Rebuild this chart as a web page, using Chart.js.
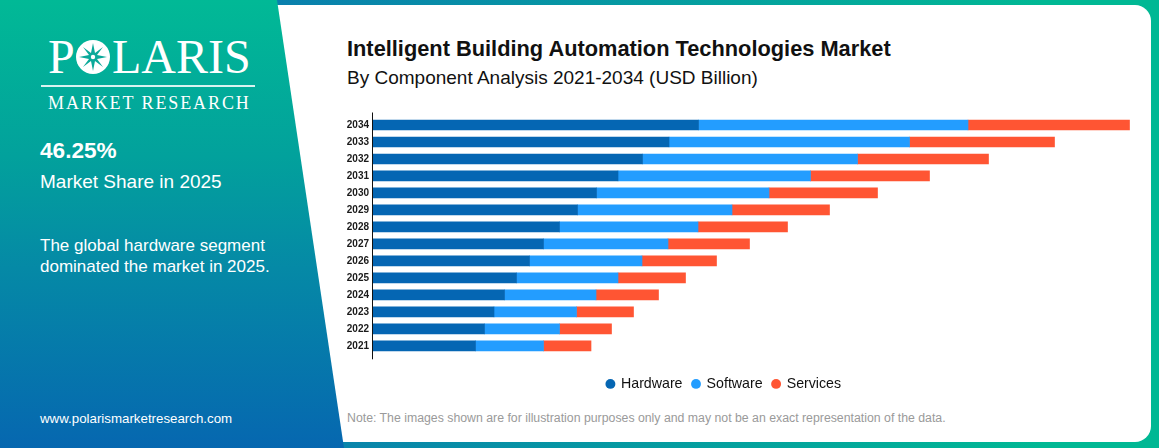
<!DOCTYPE html>
<html>
<head>
<meta charset="utf-8">
<script src="https://cdn.jsdelivr.net/npm/chart.js"></script>
<style>
  html, body {
    margin: 0;
    padding: 0;
  }
  body {
    width: 1159px;
    height: 448px;
    position: relative;
    overflow: hidden;
    font-family: 'Liberation Sans', Arial, sans-serif;
    background: linear-gradient(90deg, #0870b0 0%, #0a80ad 24%, #00b894 90%);
  }

  /* white card */
  .card {
    position: absolute;
    left: 268px;
    top: 5px;
    width: 883px;
    height: 436.5px;
    background: #ffffff;
    border-radius: 0 16px 16px 0;
  }

  /* left panel */
  .side {
    position: absolute;
    left: 0;
    top: 0;
    width: 360px;
    height: 448px;
    background: linear-gradient(180deg, #01b996 0%, #02a19c 35%, #0589a6 60%, #0667b0 100%);
    clip-path: polygon(0 0, 277px 0, 344px 448px, 0 448px);
    color: #ffffff;
  }
  .logo {
    position: absolute;
    font-family: 'Liberation Serif', 'DejaVu Serif', serif;
    font-size: 48px;
    line-height: 48px;
    top: 33px;
    color: #ffffff;
  }
  .logo-mark {
    position: absolute;
    left: 76px;
    top: 40px;
  }
  .logo-rule {
    position: absolute;
    left: 41px;
    top: 85px;
    width: 214px;
    height: 2px;
    background: rgba(255, 255, 255, 0.85);
  }
  .logo-sub {
    position: absolute;
    left: 48px;
    top: 94px;
    font-family: 'Liberation Serif', 'DejaVu Serif', serif;
    font-size: 18px;
    line-height: 18px;
    letter-spacing: 1.9px;
    white-space: nowrap;
  }
  .share {
    position: absolute;
    left: 40px;
    top: 140.3px;
    font-size: 22.6px;
    line-height: 22.6px;
    font-weight: bold;
  }
  .share-label {
    position: absolute;
    left: 40px;
    top: 171.5px;
    font-size: 19px;
    line-height: 19px;
    white-space: nowrap;
  }
  .summary {
    position: absolute;
    left: 40px;
    top: 234.6px;
    font-size: 17px;
    line-height: 21px;
    white-space: nowrap;
  }
  .site {
    position: absolute;
    left: 40px;
    top: 411.7px;
    font-size: 13.3px;
    line-height: 13.3px;
  }

  /* chart header */
  .title {
    position: absolute;
    left: 347px;
    top: 37.9px;
    font-size: 21.8px;
    line-height: 21.8px;
    font-weight: bold;
    color: #111111;
    white-space: nowrap;
  }
  .subtitle {
    position: absolute;
    left: 347px;
    top: 68.2px;
    font-size: 19px;
    line-height: 19px;
    color: #111111;
    white-space: nowrap;
  }
  .chart-box {
    position: absolute;
    left: 300px;
    top: 100px;
    width: 850px;
    height: 301px;
  }
  .note {
    position: absolute;
    left: 347px;
    top: 412.2px;
    font-size: 12.3px;
    line-height: 12.3px;
    color: #9a9a9a;
    white-space: nowrap;
  }
</style>
</head>
<body>

<div class="card"></div>

<!-- LEFT PANEL -->
<div class="side">
  <div class="logo" style="left:48px;">P</div>
  <svg class="logo-mark" width="34" height="34" viewBox="0 0 34 34">
    <circle cx="17" cy="17" r="17" fill="#ffffff"/>
    <polygon fill="#0aa99a"
      points="17,3 19,13 27,7 21,15 31,17 21,19 27,27 19,21 17,31 15,21 7,27 13,19 3,17 13,15 7,7 15,13"/>
    <circle cx="17" cy="17" r="2.2" fill="#ffffff"/>
  </svg>
  <div class="logo" style="left:112px;">LARIS</div>
  <div class="logo-rule"></div>
  <div class="logo-sub">MARKET RESEARCH</div>

  <div class="share">46.25%</div>
  <div class="share-label">Market Share in 2025</div>

  <div class="summary">
    The global hardware segment<br>
    dominated the market in 2025.
  </div>

  <div class="site">www.polarismarketresearch.com</div>
</div>

<!-- CHART -->
<div class="title">Intelligent Building Automation Technologies Market</div>
<div class="subtitle">By Component Analysis 2021-2034 (USD Billion)</div>

<div class="chart-box">
  <canvas id="componentChart"></canvas>
</div>

<div class="note">Note: The images shown are for illustration purposes only and may not be an exact representation of the data.</div>

<script>
const years = ['2021', '2022', '2023', '2024', '2025', '2026', '2027', '2028', '2029', '2030', '2031', '2032', '2033', '2034'];

const hardware = [20.5, 22.3, 24.2, 26.3, 28.7, 31.3, 34.1, 37.3, 40.9, 44.7, 49.0, 53.9, 59.2, 65.1];
const software = [13.6, 15.0, 16.5, 18.3, 20.3, 22.5, 24.9, 27.7, 30.9, 34.5, 38.5, 43.0, 48.1, 53.9];
const services = [9.5, 10.4, 11.4, 12.5, 13.5, 14.9, 16.3, 17.9, 19.5, 21.7, 23.8, 26.2, 29.0, 32.3];

// y axis line runs a little past the bars, like the original
const axisLine = {
  id: 'axisLine',
  afterDatasetsDraw(chart) {
    const { ctx, chartArea } = chart;
    ctx.save();
    ctx.strokeStyle = '#111111';
    ctx.lineWidth = 1;
    ctx.beginPath();
    ctx.moveTo(chartArea.left - 0.5, chartArea.top - 4);
    ctx.lineTo(chartArea.left - 0.5, chartArea.bottom + 5);
    ctx.stroke();
    ctx.restore();
  }
};

new Chart(document.getElementById('componentChart'), {
  type: 'bar',
  data: {
    labels: years,
    datasets: [
      { label: 'Hardware', data: hardware, backgroundColor: '#0566b3' },
      { label: 'Software', data: software, backgroundColor: '#239dff' },
      { label: 'Services', data: services, backgroundColor: '#ff5533' }
    ]
  },
  options: {
    indexAxis: 'y',
    responsive: true,
    maintainAspectRatio: false,
    animation: false,
    barThickness: 10,
    layout: {
      padding: { top: 16.5, right: 2, bottom: 0, left: 0 }
    },
    scales: {
      x: {
        stacked: true,
        min: 0,
        max: 155,
        grid: { display: false, drawTicks: false },
        border: { display: false },
        ticks: { display: false },
        afterFit(scale) { scale.height = 12.5; }
      },
      y: {
        stacked: true,
        reverse: true,
        grid: { display: false, drawTicks: false },
        border: { display: false },
        ticks: {
          padding: 4,
          color: '#1a1a1a',
          font: { family: "'Liberation Sans', Arial, sans-serif", size: 10, weight: 'bold' }
        },
        afterFit(scale) { scale.width = 73; }
      }
    },
    plugins: {
      legend: {
        position: 'bottom',
        labels: {
          usePointStyle: true,
          pointStyle: 'circle',
          boxWidth: 7,
          boxHeight: 7,
          padding: 10,
          color: '#111111',
          font: { family: "'Liberation Sans', Arial, sans-serif", size: 14.2 }
        }
      },
      tooltip: { enabled: false }
    }
  },
  plugins: [axisLine]
});
</script>

</body>
</html>
